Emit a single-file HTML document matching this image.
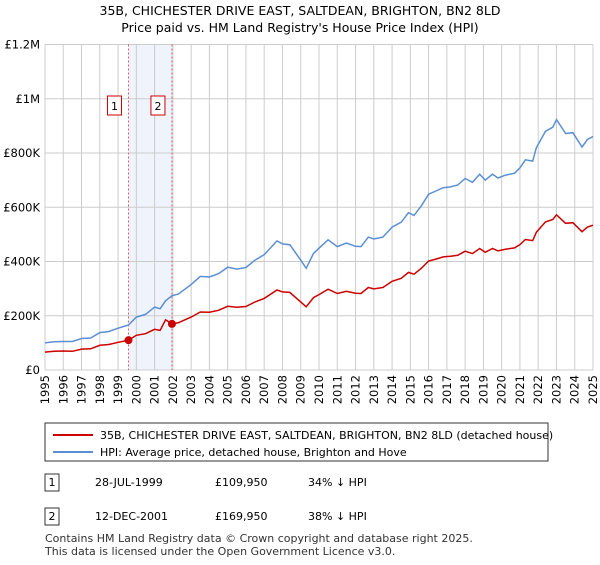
<!DOCTYPE html>
<html><head><meta charset="utf-8"><style>
body{margin:0;background:#fff;font-family:"Liberation Sans","DejaVu Sans",sans-serif;}
svg text{font-family:"DejaVu Sans","Liberation Sans",sans-serif;}
</style></head><body>
<svg width="600" height="560" xmlns="http://www.w3.org/2000/svg">
<text x="300" y="15" text-anchor="middle" font-size="12.5">35B, CHICHESTER DRIVE EAST, SALTDEAN, BRIGHTON, BN2 8LD</text>
<text x="300" y="32" text-anchor="middle" font-size="12.5">Price paid vs. HM Land Registry's House Price Index (HPI)</text>
<g id="plot"></g>
<g>
<rect x="45" y="423" width="503" height="38" fill="#fff" stroke="#333"/>
<line x1="53" y1="435" x2="93" y2="435" stroke="#cc0000" stroke-width="2"/>
<text x="100" y="439" font-size="11">35B, CHICHESTER DRIVE EAST, SALTDEAN, BRIGHTON, BN2 8LD (detached house)</text>
<line x1="53" y1="452" x2="93" y2="452" stroke="#5b8fd4" stroke-width="2"/>
<text x="100" y="456" font-size="11">HPI: Average price, detached house, Brighton and Hove</text>
</g>
<g font-size="11">
<rect x="45" y="474" width="14" height="17" fill="#fff" stroke="#333"/><text x="52" y="486" text-anchor="middle">1</text>
<text x="95" y="486">28-JUL-1999</text><text x="215" y="486">£109,950</text><text x="308" y="486">34% ↓ HPI</text>
<rect x="45" y="508" width="14" height="17" fill="#fff" stroke="#333"/><text x="52" y="520" text-anchor="middle">2</text>
<text x="95" y="520">12-DEC-2001</text><text x="215" y="520">£169,950</text><text x="308" y="520">38% ↓ HPI</text>
</g>
<text x="45" y="542" font-size="11" fill="#333">Contains HM Land Registry data © Crown copyright and database right 2025.</text>
<text x="45" y="555" font-size="11" fill="#333">This data is licensed under the Open Government Licence v3.0.</text>
</svg>
<script>
const years=[1995.0,1995.5,1996.0,1996.5,1997.0,1997.5,1998.0,1998.5,1999.0,1999.57,2000.0,2000.5,2001.0,2001.3,2001.6,2001.95,2002.3,2003.0,2003.5,2004.0,2004.5,2005.0,2005.5,2006.0,2006.5,2007.0,2007.7,2008.0,2008.4,2009.0,2009.3,2009.7,2010.0,2010.5,2011.0,2011.5,2012.0,2012.3,2012.7,2013.0,2013.5,2014.0,2014.5,2014.9,2015.2,2015.6,2016.0,2016.4,2016.8,2017.2,2017.6,2018.0,2018.4,2018.8,2019.1,2019.5,2019.8,2020.2,2020.7,2021.0,2021.3,2021.7,2021.9,2022.4,2022.8,2023.0,2023.5,2023.9,2024.4,2024.7,2025.0];
const hpiValues=[100,104,105,105,116,118,138,142,154,166,195,205,232,226,255,274,280,315,345,343,355,379,372,378,405,425,476,465,462,405,375,430,449,480,455,468,456,455,490,483,490,527,545,580,570,605,648,660,672,675,682,706,692,722,700,722,708,718,725,745,775,770,820,880,895,923,872,875,822,850,861];
const priceValues=[66,69,70,69,77,78,91,94,102,110,128,134,150,146,185,170,174,195,214,213,220,235,231,234,251,264,295,288,286,251,233,267,278,298,282,290,283,282,304,299,304,327,338,360,353,375,402,409,417,419,423,438,429,448,434,448,439,445,450,462,481,477,508,546,555,572,541,543,510,527,534];
const saleDates=[1999.57,2001.95];
const salePrices=[109.95,169.95];
const saleLabels=["1","2"];
const yTicks=[0,200,400,600,800,1000,1200];
const yTickLabels=["£0","£200K","£400K","£600K","£800K","£1M","£1.2M"];
const xTicks=[1995,1996,1997,1998,1999,2000,2001,2002,2003,2004,2005,2006,2007,2008,2009,2010,2011,2012,2013,2014,2015,2016,2017,2018,2019,2020,2021,2022,2023,2024,2025];
const X0=45,X1=593,Y0=370,Y1=44.5;
const xs=t=>X0+(t-1995)/30*(X1-X0);
const ys=v=>Y0-v/1200*(Y0-Y1);
const NS="http://www.w3.org/2000/svg";
const g=document.getElementById('plot');
function mk(tag,attrs){const e=document.createElementNS(NS,tag);for(const k in attrs)e.setAttribute(k,attrs[k]);g.appendChild(e);return e;}
let e=mk('rect',{x:xs(saleDates[0]),y:Y1,width:xs(saleDates[1])-xs(saleDates[0]),height:Y0-Y1,fill:'#eef3fc'});


yTicks.forEach((v,i)=>{
 let l=mk('line',{x1:X0,x2:X1,y1:ys(v),y2:ys(v),stroke:'#ccc'});
 
 
 let t=mk('text',{x:X0-5,y:ys(v)+4,'text-anchor':'end','font-size':'11.5'});t.textContent=yTickLabels[i];
 
 
});
xTicks.forEach(v=>{
 let l=mk('line',{x1:xs(v),x2:xs(v),y1:Y1,y2:Y0,stroke:'#ccc'});
 
 
 let t=mk('text',{x:0,y:0,'font-size':'11.5','text-anchor':'end',transform:`translate(${xs(v)+4},${Y0+5}) rotate(-90)`});t.textContent=v;
 
 
});
saleDates.forEach((d,i)=>{
 let l=mk('line',{x1:xs(d),x2:xs(d),y1:Y1,y2:Y0,stroke:'#e06060','stroke-dasharray':'2,2'});
 
 
});
const path=(vals)=>years.map((y,i)=>(i?'L':'M')+xs(y).toFixed(1)+','+ys(vals[i]).toFixed(1)).join('');
let p1=mk('path',{d:path(hpiValues),fill:'none',stroke:'#5b8fd4','stroke-width':1.5});


let p2=mk('path',{d:path(priceValues),fill:'none',stroke:'#cc0000','stroke-width':1.5});


saleDates.forEach((d,i)=>{
 let c=mk('circle',{cx:xs(d),cy:ys(salePrices[i]),r:4,fill:'#cc0000'});
 
 
 let r=mk('rect',{x:xs(d)-21,y:96,width:14,height:19,fill:'#fff',stroke:'#cc0000'});
 
 
 let t=mk('text',{x:xs(d)-14,y:110,'text-anchor':'middle','font-size':'11'});t.textContent=saleLabels[i];
 
 
});
</script>
</body></html>
